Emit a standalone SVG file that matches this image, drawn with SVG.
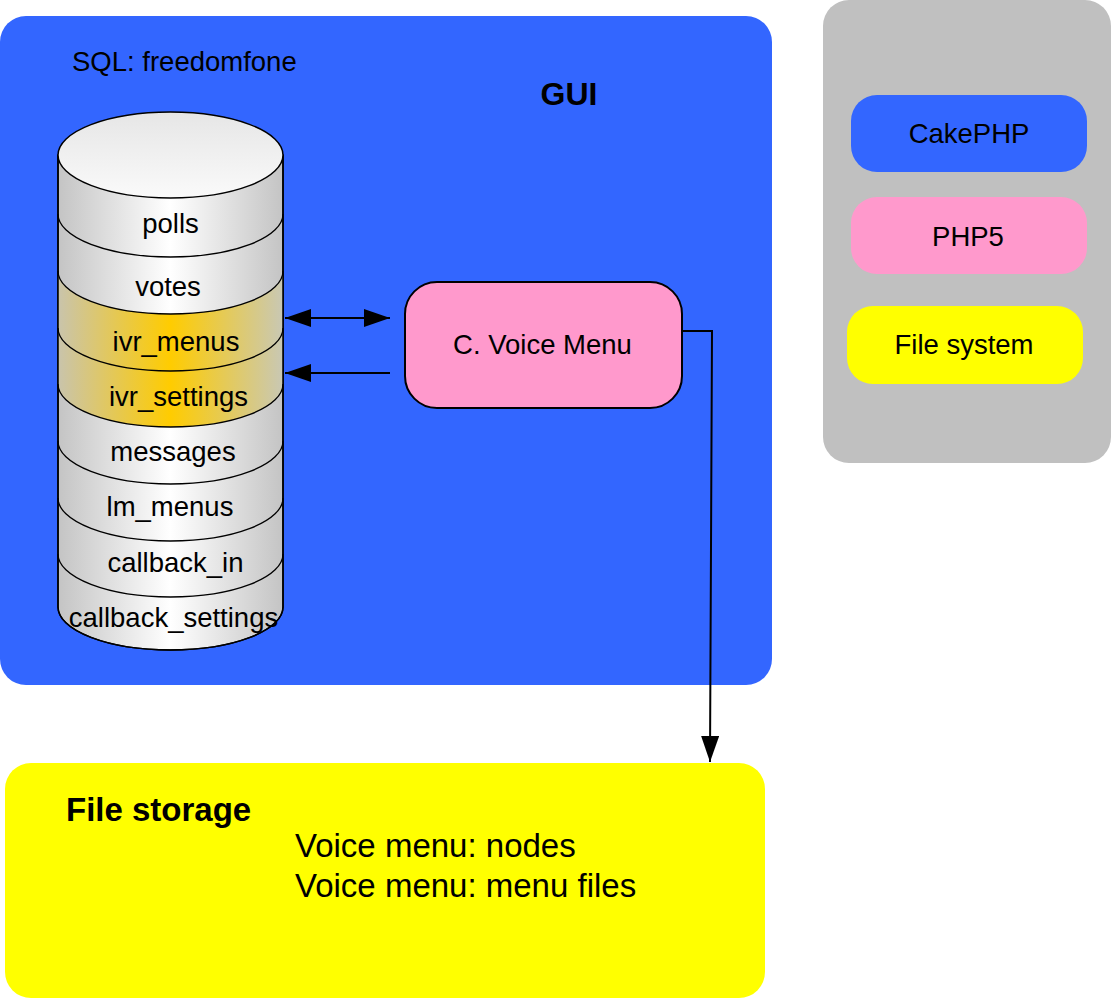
<svg xmlns="http://www.w3.org/2000/svg" width="1111" height="999" viewBox="0 0 1111 999">
<defs>
<linearGradient id="gray" x1="0" y1="0" x2="1" y2="0">
<stop offset="0" stop-color="#C4C4C4"/><stop offset="0.5" stop-color="#FFFFFF"/><stop offset="1" stop-color="#C4C4C4"/>
</linearGradient>
<linearGradient id="gold" x1="0" y1="0" x2="1" y2="0">
<stop offset="0" stop-color="#C9C4AC"/><stop offset="0.5" stop-color="#FFCC00"/><stop offset="1" stop-color="#C9C8B4"/>
</linearGradient>
<linearGradient id="top" x1="0" y1="0" x2="0" y2="1">
<stop offset="0" stop-color="#E6E6E6"/><stop offset="1" stop-color="#FAFAFA"/>
</linearGradient>
<marker id="ah" viewBox="0 0 26 18" refX="26" refY="9" markerWidth="26" markerHeight="18" markerUnits="userSpaceOnUse" orient="auto-start-reverse">
<path d="M0,0 L26,9 L0,18 Z" fill="#000"/>
</marker>
</defs>
<style>
text{font-family:"Liberation Sans",Arial,sans-serif;fill:#000}
.t{font-size:27.5px;text-anchor:middle}
.b{font-size:33px;font-weight:bold}
.m{font-size:33px}
.arc{fill:none;stroke:#000;stroke-width:1.3}
.c{stroke:#000;stroke-width:2;fill:none}
</style>
<g id="gui">
<rect x="0" y="16" width="772" height="669" rx="26" fill="#3366FF"/>
<text x="72" y="71" style="font-size:27.5px">SQL: freedomfone</text>
<text x="569" y="105" class="b" text-anchor="middle" style="font-size:32px">GUI</text>
</g>
<g id="legend">
<rect x="823" y="0" width="288" height="463" rx="26" fill="#C0C0C0"/>
<g id="cakephp"><rect x="851" y="95" width="236" height="77" rx="26" fill="#3366FF"/><text x="969" y="143" class="t">CakePHP</text></g>
<g id="php5"><rect x="851" y="197" width="236" height="77" rx="26" fill="#FF99CC"/><text x="968" y="246" class="t">PHP5</text></g>
<g id="filesystem"><rect x="847" y="306" width="236" height="78" rx="26" fill="#FFFF00"/><text x="964" y="354" class="t">File system</text></g>
</g>
<g id="database">
<path d="M58,155 L58,607 A112.5,43 0 0 0 283,607 L283,155 Z" fill="url(#gray)" stroke="#000" stroke-width="1.5"/>
<path d="M58,271 A112.5,43 0 0 0 283,271 L283,384 A112.5,43 0 0 1 58,384 Z" fill="url(#gold)"/>
<path d="M58,155 L58,607 A112.5,43 0 0 0 283,607 L283,155" fill="none" stroke="#000" stroke-width="1.5"/>
<ellipse cx="170.5" cy="155" rx="112.5" ry="43" fill="url(#top)" stroke="#000" stroke-width="1.5"/>
<path class="arc" d="M58,214 A112.5,43 0 0 0 283,214"/>
<path class="arc" d="M58,271 A112.5,43 0 0 0 283,271"/>
<path class="arc" d="M58,328 A112.5,43 0 0 0 283,328"/>
<path class="arc" d="M58,384 A112.5,43 0 0 0 283,384"/>
<path class="arc" d="M58,441 A112.5,43 0 0 0 283,441"/>
<path class="arc" d="M58,498 A112.5,43 0 0 0 283,498"/>
<path class="arc" d="M58,554 A112.5,43 0 0 0 283,554"/>
<text x="170.5" y="233" class="t">polls</text>
<text x="168" y="296" class="t">votes</text>
<text x="176" y="351" class="t">ivr_menus</text>
<text x="178.5" y="406" class="t">ivr_settings</text>
<text x="173" y="461" class="t">messages</text>
<text x="170" y="516" class="t">lm_menus</text>
<text x="175.5" y="572" class="t">callback_in</text>
<text x="173.5" y="627" class="t">callback_settings</text>
</g>
<g id="voicemenu">
<rect x="405" y="282" width="277" height="126" rx="32" fill="#FF99CC" stroke="#000" stroke-width="2"/>
<text x="542.5" y="354" class="t">C. Voice Menu</text>
</g>
<g id="filestorage">
<rect x="5" y="763" width="760" height="235" rx="26" fill="#FFFF00"/>
<text x="66" y="821" class="b">File storage</text>
<text x="295" y="857" class="m">Voice menu: nodes</text>
<text x="295" y="897" class="m">Voice menu: menu files</text>
</g>
<g id="connectors">
<line class="c" x1="285" y1="318" x2="390" y2="318" marker-start="url(#ah)" marker-end="url(#ah)"/>
<line class="c" x1="390" y1="373" x2="285" y2="373" marker-end="url(#ah)"/>
<polyline class="c" points="682,331 712,331 710,762" marker-end="url(#ah)"/>
</g>
</svg>
